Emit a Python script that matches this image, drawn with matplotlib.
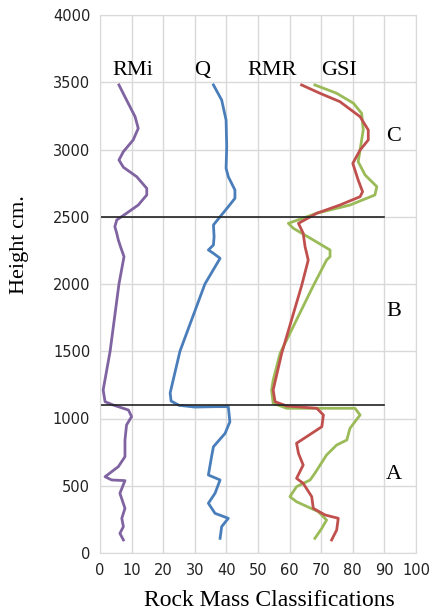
import numpy as np
import matplotlib
matplotlib.use('Agg')
import matplotlib.pyplot as plt

rmi_val = [6.0, 8.4, 11.1, 12.1, 10.5, 7.4, 6.0, 7.4, 11.6, 14.8, 14.8, 12.1, 8.4, 5.3, 4.7, 5.3,
           5.8, 6.5, 7.6, 6.0, 3.2, 1.0, 1.6, 4.2, 9.0, 10.0, 8.4, 7.9, 7.9, 5.8, 1.6, 3.7, 7.9,
           6.3, 7.9, 6.9, 7.4, 6.3, 7.4]
rmi_h = [3480, 3368, 3244, 3157, 3071, 2984, 2922, 2868, 2798, 2711, 2662, 2587, 2526, 2476, 2426, 2377,
         2327, 2277, 2203, 2000, 1500, 1212, 1125, 1100, 1063, 1014, 952, 840, 716, 642, 567, 543, 538,
         444, 332, 258, 196, 146, 97]

q_val = [35.9, 38.5, 39.9, 40.1, 39.9, 40.6, 42.7, 42.7, 40.6, 38.0, 35.9, 36.1, 35.9, 34.3, 35.9,
         38.0, 33.2, 25.3, 22.2, 22.5, 25.0, 30.1, 36.4, 40.6, 41.1, 39.6, 35.9, 35.3, 34.3, 38.0,
         36.4, 34.3, 36.4, 40.6, 38.5, 38.0]
q_h = [3480, 3368, 3219, 3021, 2860, 2798, 2699, 2637, 2575, 2500, 2439, 2352, 2290, 2253, 2228,
       2191, 2000, 1500, 1190, 1130, 1098, 1085, 1088, 1088, 976, 890, 790, 716, 580, 543,
       444, 370, 295, 258, 196, 109]

rmr_val = [63.8, 69.6, 75.9, 82.3, 84.9, 84.9, 82.3, 80.0, 81.7, 83.1, 82.3, 75.9, 68.6, 62.8, 64.3,
           64.9, 65.9, 63.8, 57.5, 54.8, 55.4, 59.1, 68.6, 70.7, 70.2, 65.4, 62.2, 62.8, 64.3, 62.2,
           64.3, 67.0, 67.5, 71.2, 75.4, 74.9, 73.3]
rmr_h = [3480, 3418, 3356, 3244, 3145, 3071, 2996, 2897, 2773, 2686, 2649, 2587, 2526, 2451, 2377,
         2277, 2178, 1987, 1485, 1212, 1125, 1093, 1076, 1026, 939, 865, 816, 741, 654, 555,
         518, 419, 332, 283, 258, 171, 97]

gsi_val = [68.0, 74.9, 80.2, 82.8, 83.3, 82.3, 81.7, 83.9, 87.6, 87.0, 79.1, 68.6, 59.6, 61.2, 67.5,
           72.8, 72.8, 71.7, 67.5, 57.0, 54.8, 54.3, 54.8, 59.1, 71.7, 80.7, 82.3, 79.1, 78.1, 74.9,
           71.7, 68.0, 66.5, 62.2, 60.1, 62.2, 69.1, 71.7, 70.2, 68.0]
gsi_h = [3480, 3418, 3344, 3269, 3145, 2996, 2909, 2810, 2724, 2662, 2587, 2526, 2451, 2414, 2327,
         2253, 2203, 2178, 1987, 1485, 1286, 1212, 1113, 1076, 1076, 1076, 1026, 927, 840, 803,
         729, 593, 543, 493, 419, 381, 307, 245, 184, 109]

zone_bounds = [2500, 1100]
series_labels = ['RMi', 'Q', 'RMR', 'GSI']
label_x = [10.4, 32.3, 54.4, 75.6]
zone_labels = ['C', 'B', 'A']
zone_y = [3093, 1792, 580]

serif = ['Liberation Serif', 'DejaVu Serif']

fig = plt.figure(figsize=(4.37, 6.11), dpi=100)
ax = fig.add_axes([100 / 437, 58 / 611, 316 / 437, 538 / 611])

ax.plot(rmi_val, rmi_h, color='#8064A2', lw=2.0)
ax.plot(q_val, q_h, color='#4A7EBB', lw=2.0)
ax.plot(gsi_val, gsi_h, color='#9BBB59', lw=2.0)
ax.plot(rmr_val, rmr_h, color='#C0504D', lw=2.0)

for yb in zone_bounds:
    ax.plot([0, 90], [yb, yb], color='#222222', lw=1.2)

for lab, lx in zip(series_labels, label_x):
    ax.text(lx, 3590, lab, ha='center', va='center', fontsize=16, family=serif)
for lab, zy in zip(zone_labels, zone_y):
    ax.text(93, zy, lab, ha='center', va='center', fontsize=16, family=serif)

ax.set_xlim(0, 100)
ax.set_ylim(0, 4000)
ax.set_xticks(np.arange(0, 101, 10))
ax.set_yticks(np.arange(0, 4001, 500))
ax.grid(True, color='#D9D9D9', lw=1.0)
ax.set_axisbelow(True)
for s in ax.spines.values():
    s.set_color('#D9D9D9')
ax.tick_params(length=0, labelsize=10.5, pad=7, colors='#222222')

fig.text(20 / 437, 1 - 245 / 611, 'Height cm.', rotation=90, ha='center', va='center',
         fontsize=16, family=serif)
fig.text(269 / 437, 1 - 600 / 611, 'Rock Mass Classifications', ha='center', va='center',
         fontsize=17, family=serif)

fig.savefig('out.png', dpi=100)
